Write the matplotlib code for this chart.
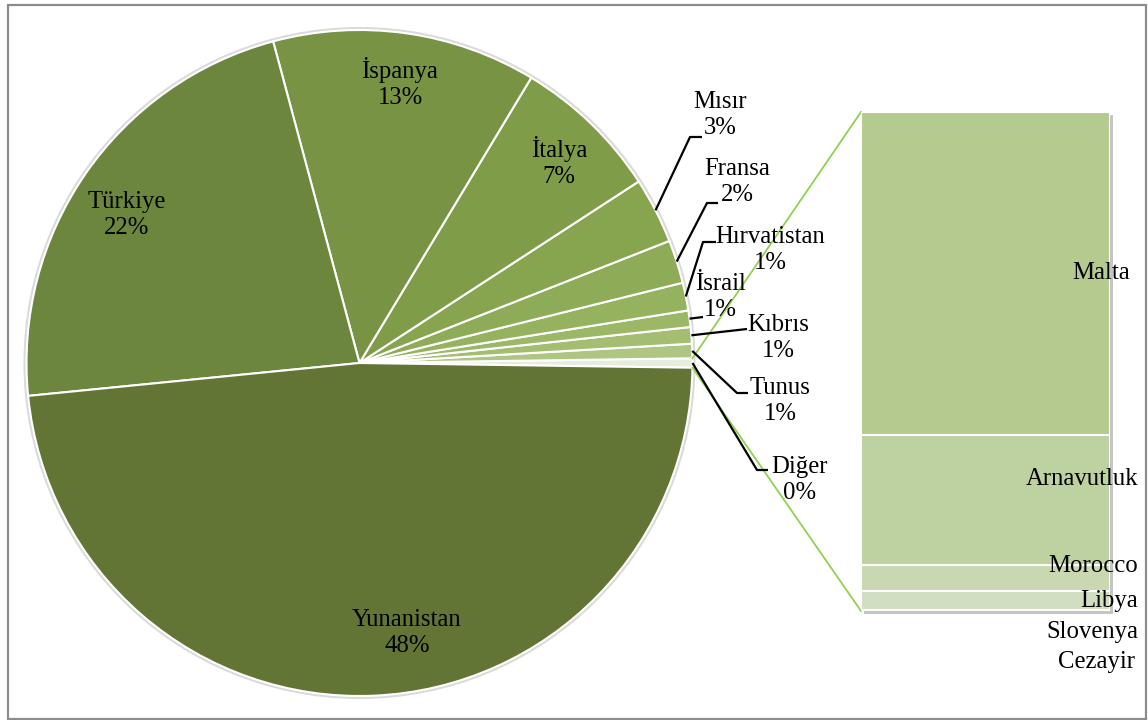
import numpy as np
import matplotlib
matplotlib.use("Agg")
import matplotlib.pyplot as plt
from matplotlib.patches import Rectangle, Circle
import matplotlib.patheffects as pe

plt.rcParams['font.family'] = ['Liberation Serif', 'DejaVu Serif']

# pay (%) - ana pasta
ulkeler = ['Yunanistan', 'Türkiye', 'İspanya', 'İtalya', 'Mısır', 'Fransa',
           'Hırvatistan', 'İsrail', 'Kıbrıs', 'Tunus']
paylar = [48.2, 22.4, 12.8, 7.2, 3.2, 2.1, 1.35, 0.8, 0.8, 0.7]

# "Diğer" dilimini oluşturan ülkeler (%)
diger_ulkeler = ['Malta', 'Arnavutluk', 'Morocco', 'Libya', 'Slovenya', 'Cezayir']
diger_paylar = [0.291, 0.118, 0.0234, 0.0171, 0.0004, 0.0003]

pasta_renk = ['#627535', '#6c873d', '#779343', '#7f9c48', '#87a54f', '#8eac57',
              '#95b25e', '#9cb766', '#a4bd71', '#aec681']
diger_renk = '#e6ecde'
bar_renk = ['#b5ca8f', '#bed1a1', '#c9d8b0', '#d2dec0', '#d8e3c8', '#dde6cf']

FS = 17.8
W, H = 1148, 720
fig = plt.figure(figsize=(W / 100, H / 100), dpi=100)
ax = fig.add_axes([0, 0, 1, 1])

# pasta: Diğer sağda, saat yönünün tersine büyükten küçüğe
merkez = (359.5, H - 363)
R = 333
degerler = [sum(diger_paylar)] + paylar[::-1]
renkler = [diger_renk] + pasta_renk[::-1]
etiketler = ['Diğer'] + ulkeler[::-1]
bas = -degerler[0] / sum(degerler) * 360 / 2

ax.add_patch(Circle(merkez, R + 1.5, facecolor='none', edgecolor='#dadada', lw=2.2, zorder=0))
wedges, _ = ax.pie(degerler, colors=renkler, startangle=bas, counterclock=True,
                   center=merkez, radius=R,
                   wedgeprops=dict(edgecolor='white', linewidth=1.5))

# etiket konumları (x, üstten y) ve kılavuz çizgileri (dirsek, uç)
etiket_yer = {
    'Yunanistan': (407, 633), 'Türkiye': (127, 215), 'İspanya': (400, 83),
    'İtalya': (559, 162), 'Mısır': (720, 115), 'Fransa': (737, 182),
    'Hırvatistan': (770, 250), 'İsrail': (720, 297), 'Kıbrıs': (778, 338),
    'Tunus': (780, 401), 'Diğer': (800, 480),
}
kilavuz = {
    'Mısır': ((690, 137), (702, 137)),
    'Fransa': ((707, 203), (718, 203)),
    'Hırvatistan': ((703, 242), (716, 242)),
    'İsrail': (None, (703, 317)),
    'Kıbrıs': (None, (747, 329)),
    'Tunus': ((737, 393), (748, 393)),
    'Diğer': ((757, 470), (768, 470)),
}

toplam = sum(degerler)
for w, ad, v in zip(wedges, etiketler, degerler):
    x, y = etiket_yer[ad]
    ax.text(x, H - y, f'{ad}\n{v / toplam * 100:.0f}%', ha='center', va='center',
            fontsize=FS, linespacing=1.22, color='black')
    if ad in kilavuz:
        orta = np.deg2rad((w.theta1 + w.theta2) / 2)
        px = [merkez[0] + R * np.cos(orta)]
        py = [merkez[1] + R * np.sin(orta)]
        dirsek, uc = kilavuz[ad]
        if dirsek is not None:
            px.append(dirsek[0]); py.append(H - dirsek[1])
        px.append(uc[0]); py.append(H - uc[1])
        ax.plot(px, py, color='black', lw=1.6, solid_capstyle='butt')

# Diğer dilimini çubuğa bağlayan çizgiler
bx0, bx1, by_ust, by_alt = 861, 1110, 112, 611
w0 = wedges[0]
for t, yy in ((w0.theta2, by_ust), (w0.theta1, by_alt)):
    a = np.deg2rad(t)
    ax.plot([merkez[0] + R * np.cos(a), bx0], [merkez[1] + R * np.sin(a), H - yy],
            color='#92d050', lw=1.3, zorder=1)

# dış çerçeve
ax.add_patch(Rectangle((8, 1), 1138, H - 6, facecolor='none', edgecolor='#8c8c8c', lw=1.6))
ax.set_xlim(0, W)
ax.set_ylim(0, H)
ax.set_aspect('auto')
ax.axis('off')

# Diğer dağılımı: yığılmış çubuk
bax = fig.add_axes([bx0 / W, (H - by_alt) / H, (bx1 - bx0) / W, (by_alt - by_ust) / H])
bax.patch.set_alpha(0)
d_toplam = sum(diger_paylar)
golge = bax.bar(0, d_toplam, width=1, color=bar_renk[0], lw=0,
                path_effects=[pe.SimplePatchShadow(offset=(2.5, -2.5), shadow_rgbFace='#6f6f6f',
                                                   alpha=0.4),
                              pe.Normal()])
for p in golge:
    p.set_clip_on(False)
alt = 0
merkezler = {}
for ad, v, c in list(zip(diger_ulkeler, diger_paylar, bar_renk))[::-1]:
    bax.bar(0, v, bottom=alt, width=1, color=c, edgecolor='white', lw=1.5)
    merkezler[ad] = alt + v / 2
    alt += v
bax.set_xlim(-0.5, 0.5)
bax.set_ylim(0, d_toplam)
bax.axis('off')

# çubuk etiketleri (piksel kaydırma)
kaydirma = {'Malta': (-8, 0), 'Arnavutluk': (0, 21), 'Morocco': (0, 12),
            'Libya': (0, 0), 'Slovenya': (0, -22), 'Cezayir': (-3, -51)}
for ad in diger_ulkeler:
    dx, dy = kaydirma[ad]
    bax.annotate(ad, xy=(1.112, merkezler[ad]), xycoords=('axes fraction', 'data'),
                 xytext=(dx, dy), textcoords='offset pixels', ha='right', va='center',
                 fontsize=FS, annotation_clip=False)

fig.savefig('out.png', dpi=100)
